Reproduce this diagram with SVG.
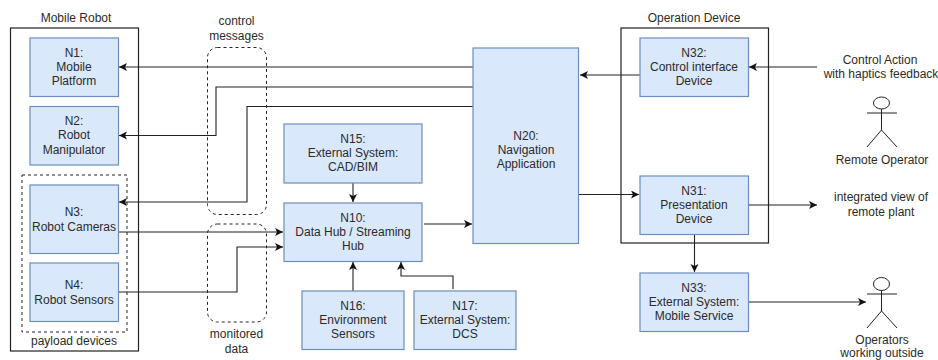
<svg xmlns="http://www.w3.org/2000/svg" width="938" height="360" viewBox="0 0 938 360">
<style>
text{font-family:"Liberation Sans",Arial,sans-serif;font-size:12px;fill:#2b2b2b;text-anchor:middle}
.n{fill:#dae8fc;stroke:#6c8ebf;stroke-width:1.2}
.b{fill:none;stroke:#222;stroke-width:1.2}
.d{fill:none;stroke:#222;stroke-width:1;stroke-dasharray:3 3}
.c{fill:none;stroke:#222;stroke-width:1.1;marker-end:url(#a)}
.s{fill:none;stroke:#222;stroke-width:1}
</style>
<defs>
<marker id="a" markerUnits="userSpaceOnUse" markerWidth="9" markerHeight="9" refX="8" refY="4" orient="auto">
<path d="M0 0L8 4L0 8L2 4Z" fill="#111"/>
</marker>
</defs>
<rect width="938" height="360" fill="#fff"/>
<g id="mobile-robot"><rect class="b" x="10.500" y="28" width="128" height="323"/><text x="76" y="22">Mobile Robot</text></g>
<g id="payload-devices"><rect class="d" x="22" y="175" width="105" height="157"/><text x="74" y="345">payload devices</text></g>
<g id="control-messages"><rect class="d" x="207.500" y="47.500" width="59" height="167" rx="10"/><text x="236.500" y="25">control</text><text x="236.500" y="40">messages</text></g>
<g id="monitored-data"><rect class="d" x="207.500" y="224" width="59" height="98" rx="10"/><text x="236.500" y="338">monitored</text><text x="236.500" y="353">data</text></g>
<g id="operation-device"><rect class="b" x="621" y="28" width="147.500" height="215"/><text x="694" y="22">Operation Device</text></g>
<g id="connectors">
<path class="c" d="M473 67H119"/>
<path class="c" d="M473 87H216V135.500H119"/>
<path class="c" d="M473 106.500H247V202H119"/>
<path class="c" d="M118 232H283"/>
<path class="c" d="M118 292H237V247H283"/>
<path class="c" d="M353 183V202"/>
<path class="c" d="M353 291V262"/>
<path class="c" d="M453 289V276H401V262"/>
<path class="c" d="M424 224H472"/>
<path class="c" d="M640 75H580"/>
<path class="c" d="M578 194.500H639"/>
<path class="c" d="M748 205H817"/>
<path class="c" d="M694.500 234V272"/>
<path class="c" d="M748 302H866"/>
<path class="c" d="M817 67H749"/>
</g>
<g id="N1"><rect class="n" x="30" y="38" width="88.500" height="58.500"/><text x="74" y="57">N1:</text><text x="74" y="71">Mobile</text><text x="74" y="85">Platform</text></g>
<g id="N2"><rect class="n" x="30" y="106.500" width="88.500" height="58.500"/><text x="74" y="125">N2:</text><text x="74" y="139">Robot</text><text x="74" y="154">Manipulator</text></g>
<g id="N3"><rect class="n" x="30" y="185" width="88.500" height="68.500"/><text x="74" y="216">N3:</text><text x="74" y="231">Robot Cameras</text></g>
<g id="N4"><rect class="n" x="30" y="263" width="88.500" height="58.500"/><text x="74" y="289">N4:</text><text x="74" y="304">Robot Sensors</text></g>
<g id="N15"><rect class="n" x="284" y="124" width="138" height="59"/><text x="353" y="143">N15:</text><text x="353" y="157">External System:</text><text x="353" y="171">CAD/BIM</text></g>
<g id="N10"><rect class="n" x="284" y="203" width="138" height="58.500"/><text x="353" y="222">N10:</text><text x="353" y="236">Data Hub / Streaming</text><text x="353" y="250">Hub</text></g>
<g id="N16"><rect class="n" x="302" y="291" width="102" height="58.500"/><text x="353" y="310">N16:</text><text x="353" y="324">Environment</text><text x="353" y="338">Sensors</text></g>
<g id="N17"><rect class="n" x="414" y="291" width="102" height="58.500"/><text x="465" y="310">N17:</text><text x="465" y="324">External System:</text><text x="465" y="338">DCS</text></g>
<g id="N20"><rect class="n" x="473" y="48" width="105.500" height="195.500"/><text x="526" y="140">N20:</text><text x="526" y="154">Navigation</text><text x="526" y="168">Application</text></g>
<g id="N32"><rect class="n" x="640" y="38" width="108.500" height="58.500"/><text x="694" y="57">N32:</text><text x="694" y="71">Control interface</text><text x="694" y="85">Device</text></g>
<g id="N31"><rect class="n" x="640" y="176" width="108.500" height="58.500"/><text x="694" y="195">N31:</text><text x="694" y="209">Presentation</text><text x="694" y="223">Device</text></g>
<g id="N33"><rect class="n" x="640" y="273" width="108.500" height="58.500"/><text x="694" y="292">N33:</text><text x="694" y="306">External System:</text><text x="694" y="320">Mobile Service</text></g>
<g id="remote-operator"><ellipse class="s" cx="881.500" cy="103" rx="8" ry="6"/><path class="s" d="M881.500 109V130M867 113H897M867 147L881.500 130L897 147"/><text x="882" y="164">Remote Operator</text></g>
<g id="operators-outside"><ellipse class="s" cx="881.500" cy="284" rx="8" ry="6.500"/><path class="s" d="M881.500 290.500V311M867 294H897M867 328L881.500 311L897 328"/><text x="882" y="344">Operators</text><text x="882" y="357">working outside</text></g>
<g id="control-action"><text x="880" y="64">Control Action</text><text x="881" y="78">with haptics feedback</text></g>
<g id="integrated-view"><text x="881" y="201">integrated view of</text><text x="881" y="216">remote plant</text></g>
</svg>
